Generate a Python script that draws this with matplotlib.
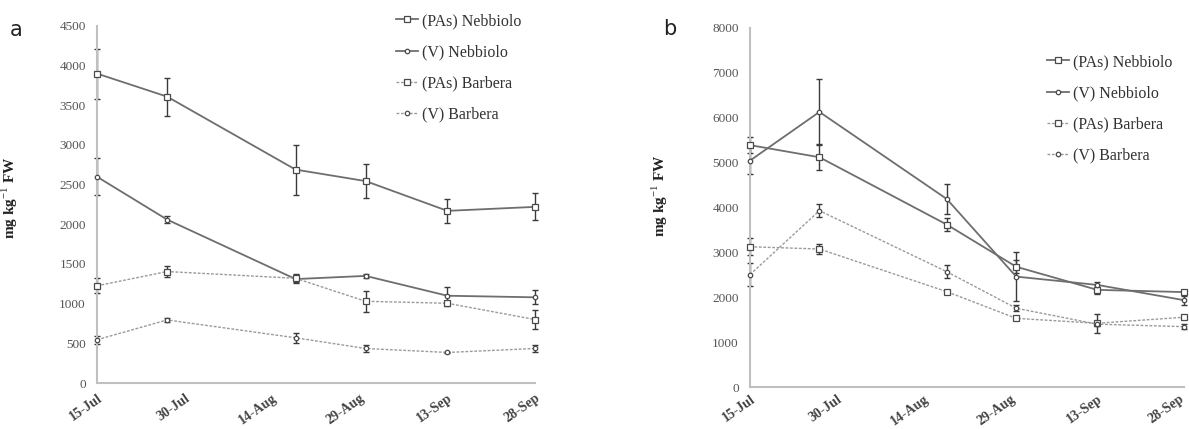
import numpy as np
import pandas as pd
import matplotlib
matplotlib.use("Agg")
import matplotlib.pyplot as plt
import matplotlib.dates as mdates
import matplotlib.transforms as mtransforms

plt.rcParams["font.family"] = ["Liberation Serif", "DejaVu Serif"]
plt.rcParams["mathtext.fontset"] = "custom"
plt.rcParams["mathtext.rm"] = "Liberation Serif"
plt.rcParams["mathtext.bf"] = "Liberation Serif:bold"

# sampling dates (same for both panels)
sample_dates = ["2013-07-15", "2013-07-27", "2013-08-18", "2013-08-30", "2013-09-13", "2013-09-28"]
tick_dates = ["2013-07-15", "2013-07-30", "2013-08-14", "2013-08-29", "2013-09-13", "2013-09-28"]

series_names = ["(PAs) Nebbiolo", "(V) Nebbiolo", "(PAs) Barbera", "(V) Barbera"]

# panel a
a_pas_neb = [3900, 3610, 2690, 2545, 2170, 2220]
a_pas_neb_err = [315, 240, 315, 210, 150, 170]
a_v_neb = [2600, 2060, 1310, 1350, 1100, 1080]
a_v_neb_err = [230, 40, 50, 30, 115, 90]
a_pas_bar = [1225, 1405, 1320, 1030, 1005, 800]
a_pas_bar_err = [95, 65, 50, 130, 30, 115]
a_v_bar = [545, 795, 570, 435, 385, 435]
a_v_bar_err = [50, 20, 60, 45, 10, 40]

# panel b
b_pas_neb = [5390, 5120, 3620, 2680, 2165, 2115]
b_pas_neb_err = [170, 290, 150, 150, 100, 50]
b_v_neb = [5045, 6130, 4190, 2460, 2275, 1935]
b_v_neb_err = [300, 730, 340, 550, 60, 100]
b_pas_bar = [3125, 3075, 2125, 1530, 1420, 1555]
b_pas_bar_err = [190, 110, 30, 40, 210, 50]
b_v_bar = [2505, 3930, 2570, 1755, 1400, 1345]
b_v_bar_err = [250, 140, 150, 70, 50, 50]

x = pd.to_datetime(sample_dates)
ticks = pd.to_datetime(tick_dates)

styles = [
    dict(ls="-", color="#6e6e6e", marker="s", ms=4.5, lw=1.3),
    dict(ls="-", color="#6e6e6e", marker="o", ms=3.2, lw=1.3),
    dict(ls=(0, (2, 1.2)), color="#9a9a9a", marker="s", ms=4.5, lw=1.0),
    dict(ls=(0, (2, 1.2)), color="#9a9a9a", marker="o", ms=3.2, lw=1.0),
]

fig = plt.figure(figsize=(11.89, 4.29), dpi=100)
ax_a = fig.add_axes([97 / 1189, 1 - 383 / 429, 438 / 1189, 357 / 429])
ax_b = fig.add_axes([750 / 1189, 1 - 387 / 429, 434 / 1189, 359 / 429])


def draw(ax, vals, errs, ymax, ystep, xpad):
    handles = []
    for v, e, st, name in zip(vals, errs, styles, series_names):
        ax.errorbar(x, v, yerr=e, fmt="none", ecolor="#3a3a3a", elinewidth=1.0,
                    capsize=2.5, capthick=1.0, clip_on=False, zorder=2)
        h, = ax.plot(x, v, ls=st["ls"], color=st["color"], lw=st["lw"], marker=st["marker"],
                     ms=st["ms"], mfc="white", mec="#4a4a4a", mew=0.9, clip_on=False,
                     label=name, zorder=3)
        handles.append(h)
    ax.set_xlim(ticks[0], ticks[-1])
    ax.set_ylim(0, ymax)
    ax.set_yticks(np.arange(0, ymax + 1, ystep))
    ax.set_xticks(ticks)
    ax.xaxis.set_major_formatter(mdates.DateFormatter("%d-%b"))
    for s in ["top", "right"]:
        ax.spines[s].set_visible(False)
    for s in ["left", "bottom"]:
        ax.spines[s].set_color("#c0c0c0")
        ax.spines[s].set_linewidth(1.5)
    ax.tick_params(axis="both", length=0)
    ax.tick_params(axis="y", pad=8, labelsize=9.5, labelcolor="#555555")
    ax.tick_params(axis="x", pad=xpad, labelsize=10, labelcolor="#444444")
    for lab in ax.get_xticklabels():
        lab.set_rotation(35)
        lab.set_ha("right")
        lab.set_rotation_mode("anchor")
        lab.set_fontweight("bold")
    ax.set_ylabel(r"mg kg$^{-1}$ FW", fontweight="bold", fontsize=11, color="#222222")
    return handles


ha = draw(ax_a, [a_pas_neb, a_v_neb, a_pas_bar, a_v_bar],
          [a_pas_neb_err, a_v_neb_err, a_pas_bar_err, a_v_bar_err], 4500, 500, 6)
hb = draw(ax_b, [b_pas_neb, b_v_neb, b_pas_bar, b_v_bar],
          [b_pas_neb_err, b_v_neb_err, b_pas_bar_err, b_v_bar_err], 8000, 1000, 4)

# nudge the last date label of panel b so it stays inside the figure
last = ax_b.get_xticklabels()[-1]
last.set_transform(last.get_transform() + mtransforms.ScaledTranslation(-5 / 100, 0, fig.dpi_scale_trans))

ax_a.yaxis.set_label_coords(20 / 1189, 1 - 198 / 429, transform=fig.transFigure)
ax_b.yaxis.set_label_coords(670 / 1189, 1 - 196 / 429, transform=fig.transFigure)

for ax, hs, pos in [(ax_a, ha, (396 / 1189, 1 - 13 / 429)), (ax_b, hb, (1047 / 1189, 1 - 54 / 429))]:
    leg = ax.legend(handles=hs, loc="upper left", bbox_to_anchor=pos, bbox_transform=fig.transFigure,
                    frameon=False, fontsize=11.5, handlelength=1.4, handletextpad=0.2,
                    labelspacing=0.95, borderpad=0, borderaxespad=0)
    for t in leg.get_texts():
        t.set_color("#333333")

fig.text(10 / 1189, 1 - 30 / 429, "a", fontsize=15, family="DejaVu Sans", color="#222222", va="center")
fig.text(663 / 1189, 1 - 29 / 429, "b", fontsize=15, family="DejaVu Sans", color="#222222", va="center")

fig.savefig("out.png", dpi=100)
